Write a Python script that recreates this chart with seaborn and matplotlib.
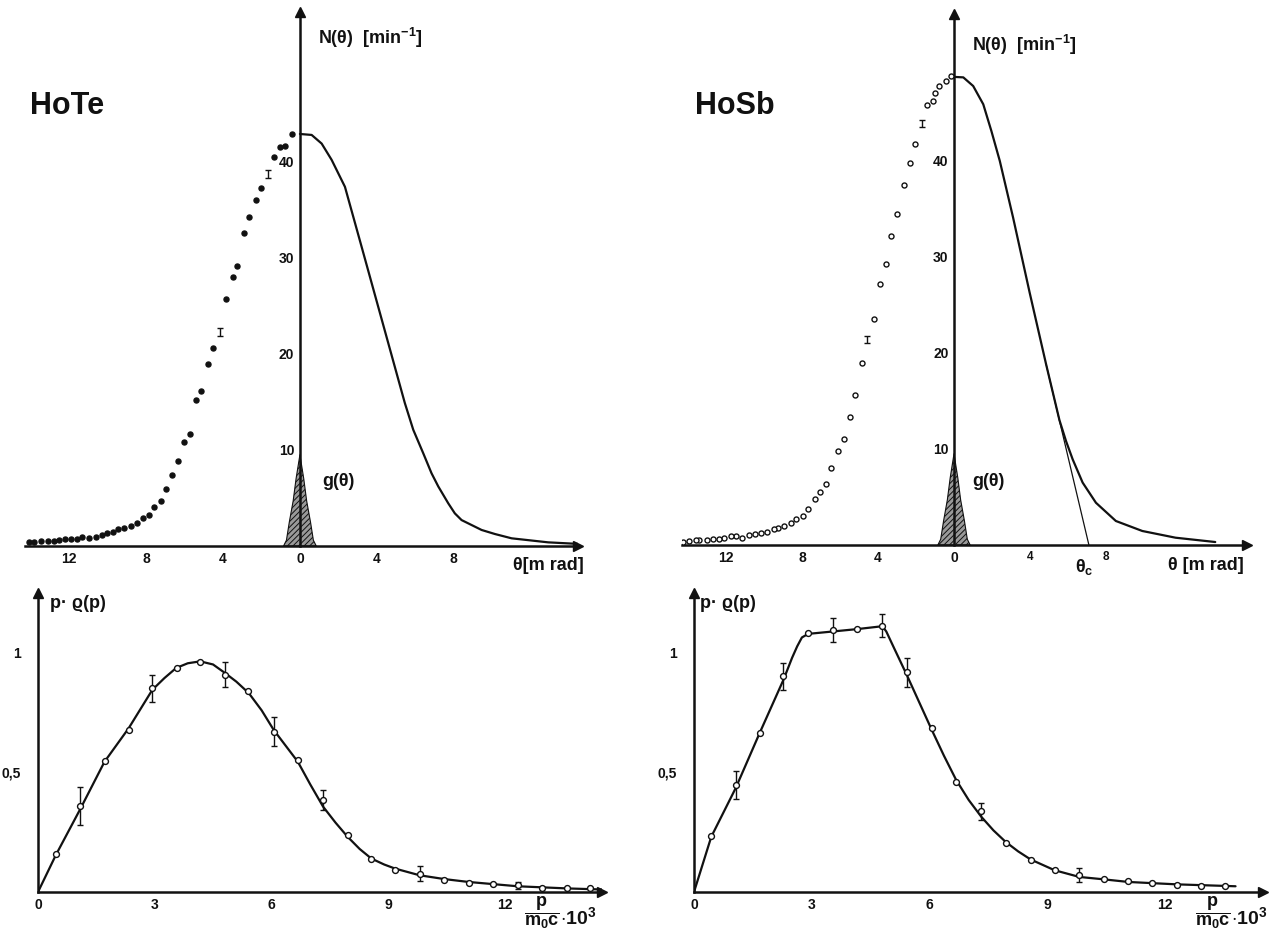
import numpy as np
import seaborn as sns
import matplotlib.pyplot as plt

# angular correlation, HoTe (measured on the negative side, fit on the positive side)
hote_theta = [-0.42, -0.78, -1.04, -1.35, -1.66, -2.0, -2.28, -2.63, -2.9, -3.27, -3.5, -3.85,
              -4.15, -4.5, -4.78, -5.13, -5.4, -5.7, -6.0, -6.34, -6.65, -6.96, -7.22, -7.58,
              -7.84, -8.16, -8.47, -8.78, -9.14, -9.45, -9.71, -10.0, -10.3, -10.6, -10.96,
              -11.3, -11.6, -11.9, -12.2, -12.5, -12.8, -13.1, -13.45, -13.8, -14.1]
hote_N = [42.9, 41.7, 41.5, 40.5, 38.75, 37.3, 36.0, 34.3, 32.6, 29.2, 28.0, 25.7,
          22.3, 20.6, 19.0, 16.1, 15.2, 11.7, 10.8, 8.9, 7.4, 5.9, 4.7, 4.1,
          3.2, 2.9, 2.4, 2.1, 1.9, 1.8, 1.5, 1.4, 1.15, 0.95, 0.85,
          0.95, 0.75, 0.7, 0.7, 0.65, 0.55, 0.55, 0.55, 0.45, 0.45]
hote_err_idx = [4, 12]
hote_fit_theta = [0, 0.61, 1.13, 1.65, 2.34, 3.2, 4.07, 4.76, 5.45, 5.89, 6.41, 6.84, 7.19,
                  7.71, 8.05, 8.4, 9.44, 10.13, 11.0, 12.9, 14.63]
hote_fit_N = [42.9, 42.8, 41.9, 40.2, 37.4, 31.2, 24.9, 19.9, 14.9, 12.1, 9.65, 7.57, 6.2,
              4.44, 3.4, 2.7, 1.67, 1.25, 0.8, 0.38, 0.2]

# angular correlation, HoSb
hosb_theta = [-0.16, -0.42, -0.79, -1.0, -1.1, -1.42, -1.68, -2.05, -2.3, -2.63, -3.0, -3.3,
              -3.58, -3.9, -4.2, -4.58, -4.84, -5.2, -5.47, -5.79, -6.1, -6.47, -6.74, -7.05,
              -7.3, -7.7, -7.95, -8.3, -8.6, -8.95, -9.26, -9.5, -9.84, -10.16, -10.47, -10.8,
              -11.16, -11.5, -11.74, -12.1, -12.37, -12.7, -13.0, -13.4, -13.6, -13.95, -14.26]
hosb_N = [48.85, 48.3, 47.8, 47.1, 46.2, 45.8, 43.9, 41.8, 39.8, 37.5, 34.5, 32.2,
          29.3, 27.2, 23.5, 21.4, 19.0, 15.6, 13.3, 11.0, 9.8, 8.0, 6.4, 5.5,
          4.8, 3.75, 3.0, 2.7, 2.3, 2.0, 1.8, 1.7, 1.4, 1.3, 1.1, 1.0,
          0.7, 0.9, 0.9, 0.7, 0.6, 0.6, 0.5, 0.5, 0.5, 0.4, 0.3]
hosb_err_idx = [6, 15]
hosb_fit_theta = [0, 0.49, 1.01, 1.54, 1.97, 2.41, 3.11, 3.98, 4.85, 5.55, 5.9, 6.25, 6.77,
                  7.47, 8.52, 9.91, 11.66, 13.75]
hosb_fit_N = [48.75, 48.7, 47.8, 45.9, 43.1, 40.0, 34.1, 26.3, 18.8, 13.0, 10.8, 8.9, 6.5,
              4.4, 2.5, 1.46, 0.76, 0.31]
tangent_theta = [4.85, 7.1]
tangent_N = [18.8, 0]

# resolution function g(theta)
g_theta = [-0.85, -0.7, -0.55, -0.35, -0.2, 0, 0.2, 0.35, 0.55, 0.7, 0.85]
g_N = [0, 0.6, 2.5, 4.7, 7.0, 9.5, 7.0, 4.7, 2.5, 0.6, 0]

# momentum density p*rho(p)
hote_p = [0.46, 1.08, 1.71, 2.33, 2.94, 3.57, 4.17, 4.81, 5.41, 6.06, 6.68, 7.33, 7.96, 8.57,
          9.18, 9.81, 10.45, 11.07, 11.71, 12.33, 12.97, 13.6, 14.2]
hote_rho = [0.161, 0.359, 0.55, 0.678, 0.852, 0.936, 0.961, 0.910, 0.84, 0.671, 0.552, 0.385,
            0.239, 0.136, 0.094, 0.077, 0.052, 0.039, 0.035, 0.028, 0.018, 0.015, 0.015]
hote_rho_err = [0, 0.079, 0, 0, 0.056, 0, 0, 0.053, 0, 0.061, 0, 0.042, 0, 0,
                0, 0.032, 0, 0, 0, 0.014, 0, 0, 0]
hote_p_fit = [0, 0.46, 1.08, 1.71, 2.33, 2.94, 3.25, 3.55, 3.85, 4.17, 4.5, 4.81, 5.1, 5.42,
              5.75, 6.06, 6.68, 7.0, 7.33, 7.65, 7.96, 8.27, 8.57, 8.9, 9.18, 9.81, 10.45,
              11.07, 12.33, 13.6, 14.6]
hote_rho_fit = [0, 0.155, 0.345, 0.545, 0.685, 0.846, 0.895, 0.937, 0.957, 0.965, 0.952, 0.916,
                0.88, 0.832, 0.76, 0.678, 0.545, 0.45, 0.357, 0.29, 0.231, 0.18, 0.14, 0.115,
                0.098, 0.07, 0.054, 0.042, 0.024, 0.015, 0.01]

hosb_p = [0.44, 1.06, 1.67, 2.28, 2.91, 3.54, 4.16, 4.8, 5.42, 6.06, 6.68, 7.32, 7.94, 8.58,
          9.19, 9.82, 10.44, 11.07, 11.68, 12.3, 12.92, 13.54]
hosb_rho = [0.235, 0.448, 0.667, 0.902, 1.084, 1.095, 1.102, 1.115, 0.919, 0.687, 0.462, 0.337,
            0.207, 0.133, 0.091, 0.07, 0.053, 0.045, 0.038, 0.031, 0.025, 0.024]
hosb_rho_err = [0, 0.06, 0, 0.056, 0, 0.05, 0, 0.05, 0.06, 0, 0, 0.034, 0, 0,
                0, 0.03, 0, 0, 0, 0, 0, 0]
hosb_p_fit = [0, 0.44, 1.06, 1.67, 2.28, 2.5, 2.63, 2.75, 2.91, 3.54, 4.16, 4.8, 4.9, 5.1,
              5.42, 6.06, 6.37, 6.68, 7.0, 7.32, 7.63, 7.94, 8.26, 8.58, 9.19, 9.82, 10.44,
              11.07, 12.3, 13.8]
hosb_rho_fit = [0, 0.231, 0.434, 0.664, 0.888, 0.98, 1.028, 1.065, 1.08, 1.09, 1.10, 1.112,
                1.09, 1.02, 0.909, 0.678, 0.57, 0.469, 0.385, 0.315, 0.258, 0.21, 0.17, 0.136,
                0.091, 0.063, 0.053, 0.042, 0.032, 0.024]

sns.set_theme(style="white")
plt.rcParams['font.family'] = ['Liberation Sans', 'DejaVu Sans']
plt.rcParams['font.weight'] = 'bold'
plt.rcParams['mathtext.fontset'] = 'custom'
plt.rcParams['mathtext.rm'] = 'Liberation Sans:bold'
plt.rcParams['mathtext.bf'] = 'Liberation Sans:bold'
plt.rcParams['mathtext.it'] = 'Liberation Sans:bold'
plt.rcParams['mathtext.default'] = 'bf'
plt.rcParams['hatch.linewidth'] = 0.7

W, H = 1271, 931
fig = plt.figure(figsize=(W / 100, H / 100), dpi=100)
ink = '#111111'


def px_axes(left, right, bottom, top):
    return fig.add_axes([left / W, 1 - bottom / H, (right - left) / W, (bottom - top) / H])


def style_axes(ax):
    for s in ['top', 'right']:
        ax.spines[s].set_visible(False)
    ax.spines['left'].set_position(('data', 0))
    ax.spines['bottom'].set_position(('data', 0))
    for s in ['left', 'bottom']:
        ax.spines[s].set_color(ink)
        ax.spines[s].set_linewidth(1.8)
    ax.tick_params(direction='in', length=5, width=1.2, colors=ink, labelsize=10, pad=4)
    ax.plot(0, 1, '^', color=ink, ms=7, transform=ax.get_xaxis_transform(), clip_on=False)
    ax.plot(1, 0, '>', color=ink, ms=7, transform=ax.get_yaxis_transform(), clip_on=False)
    ax.set_facecolor('none')


def angular_panel(ax, th, N, err_idx, fit_th, fit_N, filled):
    style_axes(ax)
    keep = [i for i in range(len(th)) if i not in err_idx]
    sns.scatterplot(x=[th[i] for i in keep], y=[N[i] for i in keep], ax=ax, s=13,
                    color=ink if filled else 'white', edgecolor=ink, linewidth=1.0, zorder=4)
    ax.errorbar([th[i] for i in err_idx], [N[i] for i in err_idx], yerr=0.4, fmt='none',
                ecolor=ink, elinewidth=1.0, capsize=2, capthick=1.0, zorder=4)
    sns.lineplot(x=fit_th, y=fit_N, ax=ax, color=ink, lw=1.6, sort=False, estimator=None, zorder=3)
    ax.fill_between(g_theta, 0, g_N, facecolor='#999999', edgecolor=ink, hatch='//////',
                    lw=0.8, zorder=2)
    ax.set_yticks(np.arange(5, 51, 5))
    ax.set_yticklabels(['' if (v % 10 or v == 50) else str(v) for v in np.arange(5, 51, 5)])
    ax.set_xticks([-12, -8, -4, 0, 4, 8, 12])
    ax.set_xlabel('')
    ax.set_ylabel('')
    return ax


# top left: HoTe
ax1 = px_axes(24.7, 578, 546, 12)
angular_panel(ax1, hote_theta, hote_N, hote_err_idx, hote_fit_theta, hote_fit_N, True)
ax1.set_xlim(-14.3, 14.45)
ax1.set_ylim(0, 55.6)
ax1.set_xticklabels(['12', '8', '4', '0', '4', '8', ''])
ax1.text(1.15, 6.7, 'g(θ)', fontsize=13, ha='left', va='center', color=ink)

# top right: HoSb
ax2 = px_axes(682.3, 1246.6, 545, 14)
angular_panel(ax2, hosb_theta, hosb_N, hosb_err_idx, hosb_fit_theta, hosb_fit_N, False)
ax2.set_xlim(-14.3, 15.4)
ax2.set_ylim(0, 55.3)
labs = ax2.set_xticklabels(['12', '8', '4', '0', '4', '8', ''])
for t in labs[4:6]:
    t.set_fontsize(8.5)
sns.lineplot(x=tangent_theta, y=tangent_N, ax=ax2, color=ink, lw=0.9, sort=False, estimator=None)
ax2.text(0.95, 6.6, 'g(θ)', fontsize=13, ha='left', va='center', color=ink)
ax2.text(6.85, -1.3, r'θ$_c$', fontsize=13, ha='center', va='top', color=ink)


def momentum_panel(ax, p, rho, err, p_fit, rho_fit):
    style_axes(ax)
    ax.errorbar([a for a, e in zip(p, err) if e], [b for b, e in zip(rho, err) if e],
                yerr=[e for e in err if e], fmt='none', ecolor=ink, elinewidth=1.0,
                capsize=2.5, capthick=1.0, zorder=3)
    sns.lineplot(x=p_fit, y=rho_fit, ax=ax, color=ink, lw=1.6, sort=False, estimator=None, zorder=2)
    sns.scatterplot(x=p, y=rho, ax=ax, s=18, color='white', edgecolor=ink, linewidth=1.0, zorder=4)
    ax.set_xlim(0, 14.5)
    ax.set_ylim(0, 1.251)
    ax.set_xticks([0, 3, 6, 9, 12])
    ax.set_xticklabels(['0', '3', '6', '9', '12'])
    ax.set_yticks([0.25, 0.5, 0.75, 1.0])
    ax.set_yticklabels(['', '0,5', '', '1'])
    ax.tick_params(axis='y', pad=12)
    ax.set_xlabel('')
    ax.set_ylabel('')


ax3 = px_axes(38, 602, 892, 593)
momentum_panel(ax3, hote_p, hote_rho, hote_rho_err, hote_p_fit, hote_rho_fit)
ax4 = px_axes(694, 1263, 892, 593)
momentum_panel(ax4, hosb_p, hosb_rho, hosb_rho_err, hosb_p_fit, hosb_rho_fit)


def ftext(x, y, s, **kw):
    kw.setdefault('color', ink)
    fig.text(x / W, 1 - y / H, s, **kw)


ftext(30, 106, 'HoTe', fontsize=22, ha='left', va='center')
ftext(695, 106, 'HoSb', fontsize=22, ha='left', va='center')
ftext(318, 38, r'N(θ)  [min$^{-1}$]', fontsize=13, ha='left', va='center')
ftext(972, 45, r'N(θ)  [min$^{-1}$]', fontsize=13, ha='left', va='center')
ftext(513, 566, 'θ[m rad]', fontsize=13, ha='left', va='center')
ftext(1168, 566, 'θ [m rad]', fontsize=13, ha='left', va='center')
ftext(50, 603, 'p· ϱ(p)', fontsize=13, ha='left', va='center')
ftext(700, 603, 'p· ϱ(p)', fontsize=13, ha='left', va='center')
ftext(524, 913, r'$\dfrac{p}{m_0c}$', fontsize=13, ha='left', va='center')
ftext(560, 917, r'$\cdot$10$^3$', fontsize=14, ha='left', va='center')
ftext(1195, 913, r'$\dfrac{p}{m_0c}$', fontsize=13, ha='left', va='center')
ftext(1231, 917, r'$\cdot$10$^3$', fontsize=14, ha='left', va='center')

fig.savefig('out.png', dpi=100, facecolor='white')
